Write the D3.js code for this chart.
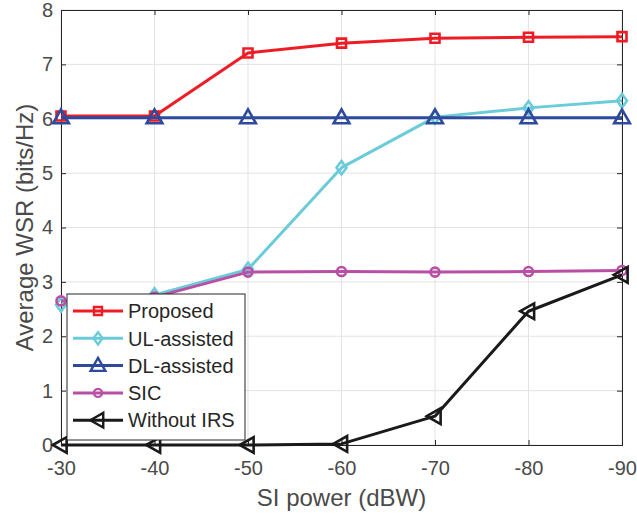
<!DOCTYPE html>
<html>
<head>
<meta charset="utf-8">
<script src="https://cdn.jsdelivr.net/npm/d3@7"></script>
<style>
  body { margin: 0; background: #fff; }
  svg { font-family: "Liberation Sans", Arial, sans-serif; }
</style>
</head>
<body>
<svg width="637" height="517"></svg>
<script>
const siPower = [-30, -40, -50, -60, -70, -80, -90];

const proposed   = [6.05, 6.05, 7.21, 7.39, 7.48, 7.50, 7.51];
const ulAssisted = [2.58, 2.76, 3.23, 5.10, 6.03, 6.20, 6.33];
const dlAssisted = [6.02, 6.02, 6.02, 6.02, 6.02, 6.02, 6.02];
const sic        = [2.65, 2.72, 3.18, 3.19, 3.18, 3.19, 3.21];
const withoutIrs = [0.00, 0.00, 0.00, 0.02, 0.53, 2.46, 3.13];

const yTicks = [0, 1, 2, 3, 4, 5, 6, 7, 8];

const series = [
  {name: "Proposed",    values: proposed,   color: "#ee1c25", marker: "square"},
  {name: "UL-assisted", values: ulAssisted, color: "#6bcbd9", marker: "diamond"},
  {name: "DL-assisted", values: dlAssisted, color: "#2e4a9c", marker: "triangle"},
  {name: "SIC",         values: sic,        color: "#b84fa5", marker: "circle"},
  {name: "Without IRS", values: withoutIrs, color: "#1a1a1a", marker: "left"}
];

const svg = d3.select('svg');
const mLeft = 61, mRight = 622, mTop = 10, mBottom = 445;

const x = d3.scaleLinear().domain([-30, -90]).range([mLeft, mRight]);
const y = d3.scaleLinear().domain([0, 8]).range([mBottom, mTop]);

const axisColor = "#262626";
const textColor = "#4a4a4a";

// grid
const grid = svg.append('g');
grid.selectAll('.gx').data(siPower).enter().append('line')
  .attr('x1', d => x(d)).attr('x2', d => x(d))
  .attr('y1', mTop).attr('y2', mBottom)
  .attr('stroke', '#e3e3e3').attr('stroke-width', 1);
grid.selectAll('.gy').data(yTicks).enter().append('line')
  .attr('x1', mLeft).attr('x2', mRight)
  .attr('y1', d => y(d)).attr('y2', d => y(d))
  .attr('stroke', '#e3e3e3').attr('stroke-width', 1);

// axes
const xAxis = svg.append('g').attr('transform', `translate(0,${mBottom})`)
  .call(d3.axisBottom(x).tickValues(siPower).tickSize(-5).tickPadding(16).tickFormat(d => String(d)));
const xAxisTop = svg.append('g').attr('transform', `translate(0,${mTop})`)
  .call(d3.axisTop(x).tickValues(siPower).tickSize(-5).tickFormat(''));
const yAxis = svg.append('g').attr('transform', `translate(${mLeft},0)`)
  .call(d3.axisLeft(y).tickValues(yTicks).tickSize(-5).tickPadding(8));
const yAxisRight = svg.append('g').attr('transform', `translate(${mRight},0)`)
  .call(d3.axisRight(y).tickValues(yTicks).tickSize(-5).tickFormat(''));

[xAxis, xAxisTop, yAxis, yAxisRight].forEach(a => {
  a.select('.domain').attr('stroke', axisColor).attr('stroke-width', 1);
  a.selectAll('.tick line').attr('stroke', axisColor);
  a.selectAll('.tick text').attr('fill', textColor).style('font-size', '20px');
});

svg.append('text')
  .attr('x', (mLeft + mRight) / 2).attr('y', 506)
  .attr('text-anchor', 'middle').attr('fill', textColor)
  .style('font-size', '24px').text('SI power (dBW)');
svg.append('text')
  .attr('transform', `translate(33,${(mTop + mBottom) / 2}) rotate(-90)`)
  .attr('text-anchor', 'middle').attr('fill', textColor)
  .style('font-size', '24px').text('Average WSR (bits/Hz)');

function markerPath(type, s) {
  const h = s / 2;
  if (type === 'square') return `M${-h},${-h}H${h}V${h}H${-h}Z`;
  if (type === 'diamond') return `M0,${-h * 1.35}L${h},0L0,${h * 1.35}L${-h},0Z`;
  if (type === 'triangle') return `M0,${-h * 1.1}L${h * 1.05},${h * 0.75}L${-h * 1.05},${h * 0.75}Z`;
  if (type === 'left') return `M${-h * 1.1},0L${h * 0.75},${-h * 1.05}L${h * 0.75},${h * 1.05}Z`;
  return d3.arc()({innerRadius: 0, outerRadius: h, startAngle: 0, endAngle: 2 * Math.PI});
}
const markerSize = {square: 9, diamond: 10, triangle: 15, circle: 9, left: 15};

const line = d3.line().x((d, i) => x(siPower[i])).y(d => y(d));

const plot = svg.append('g');
series.forEach(s => {
  plot.append('path').datum(s.values)
    .attr('d', line).attr('fill', 'none')
    .attr('stroke', s.color).attr('stroke-width', 3).attr('stroke-linejoin', 'round');
  plot.selectAll(null).data(s.values).enter().append('path')
    .attr('transform', (d, i) => `translate(${x(siPower[i])},${y(d)})`)
    .attr('d', markerPath(s.marker, markerSize[s.marker]))
    .attr('fill', 'none').attr('stroke', s.color).attr('stroke-width', 2.6);
});

// legend
const lg = svg.append('g').attr('transform', 'translate(67,294)');
lg.append('rect').attr('width', 178).attr('height', 146)
  .attr('fill', '#fff').attr('stroke', axisColor).attr('stroke-width', 1);
series.forEach((s, i) => {
  const yy = 17 + i * 27.3;
  lg.append('line').attr('x1', 6).attr('x2', 56).attr('y1', yy).attr('y2', yy)
    .attr('stroke', s.color).attr('stroke-width', 3);
  lg.append('path').attr('transform', `translate(31,${yy})`)
    .attr('d', markerPath(s.marker, markerSize[s.marker] - 1))
    .attr('fill', 'none').attr('stroke', s.color).attr('stroke-width', 2.4);
  lg.append('text').attr('x', 61).attr('y', yy).attr('dy', '0.36em')
    .attr('fill', '#262626').style('font-size', '20px').text(s.name);
});
</script>
</body>
</html>
